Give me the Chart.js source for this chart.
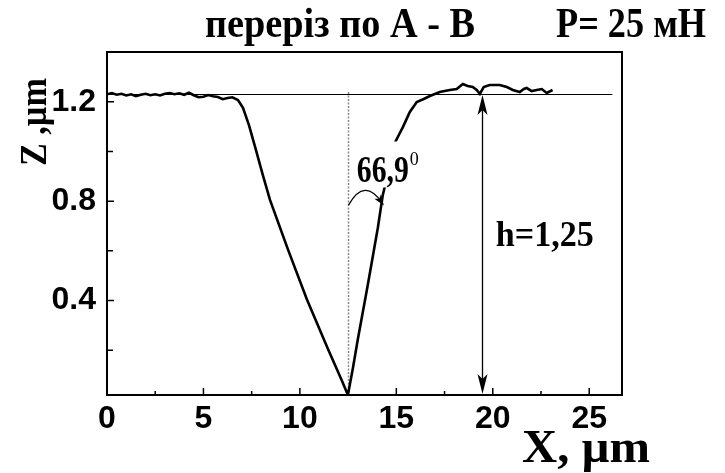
<!DOCTYPE html>
<html>
<head>
<meta charset="utf-8">
<script src="https://cdn.jsdelivr.net/npm/chart.js@4.4.1/dist/chart.umd.min.js"></script>
<style>
  html, body { margin: 0; padding: 0; background: #fff; }
  canvas { display: block; }
</style>
</head>
<body>
<canvas id="chart" width="725" height="473"></canvas>
<script>
/* ── profile A - B ── */
const profileX = [0, 0.25, 0.5, 0.75, 1.0, 1.25, 1.5, 1.75, 2.0, 2.25, 2.5, 2.75, 3.0, 3.25, 3.5, 3.75,
  4.0, 4.25, 4.5, 4.75, 5.0, 5.25, 5.5, 5.75, 6.0, 6.25, 6.5, 6.79, 7.05, 7.36, 7.72, 8.08, 8.45, 9.38,
  10.36, 11.45, 12.18, 12.49, 12.75, 13.0, 13.52, 14.04, 14.3, 14.61, 14.92, 15.13, 15.34, 15.7, 16.06,
  16.42, 16.74, 17.25, 17.77, 18.13, 18.45, 18.7, 18.96, 19.17, 19.33, 19.53, 19.84, 20.36, 20.73, 21.04,
  21.4, 21.61, 21.76, 22.02, 22.28, 22.54, 22.8, 23.1];
const profileZ = [1.230, 1.235, 1.228, 1.232, 1.225, 1.230, 1.222, 1.228, 1.232, 1.226, 1.230, 1.225, 1.232,
  1.235, 1.230, 1.234, 1.228, 1.236, 1.226, 1.218, 1.220, 1.227, 1.222, 1.219, 1.210, 1.215, 1.218, 1.207,
  1.175, 1.106, 1.006, 0.905, 0.805, 0.606, 0.405, 0.206, 0.077, 0.02, 0.129, 0.242, 0.463, 0.692, 0.825,
  0.926, 1.034, 1.066, 1.098, 1.159, 1.199, 1.211, 1.223, 1.239, 1.247, 1.251, 1.271, 1.263, 1.259, 1.247,
  1.231, 1.259, 1.267, 1.267, 1.259, 1.247, 1.239, 1.251, 1.255, 1.243, 1.247, 1.251, 1.235, 1.247];

const xMajor = [0, 5, 10, 15, 20, 25];
const xMinor = [2.5, 7.5, 12.5, 17.5, 22.5];
const yMajor = [0.4, 0.8, 1.2];
const yMinor = [0.2, 0.6, 1.0];

const surfaceZ = 1.231;   // reference level
const tipX = 12.52;       // indent bottom (dotted axis)
const hMarkX = 19.43;     // depth arrow

/* ── helpers ── */
function fitText(ctx, str, x, y, font, w) {
  ctx.save();
  ctx.font = font;
  const k = w ? w / ctx.measureText(str).width : 1;
  ctx.translate(x, y);
  ctx.scale(k, 1);
  ctx.textAlign = 'left';
  ctx.textBaseline = 'alphabetic';
  ctx.fillText(str, 0, 0);
  ctx.restore();
}

function arrowHead(ctx, tx, ty, ang, len, half) {
  ctx.save();
  ctx.translate(tx, ty);
  ctx.rotate(ang);
  ctx.beginPath();
  ctx.moveTo(0, 0);
  ctx.lineTo(-len, -half);
  ctx.lineTo(-len * 0.75, 0);
  ctx.lineTo(-len, half);
  ctx.closePath();
  ctx.fill();
  ctx.restore();
}

const serif = '"Liberation Serif", "Times New Roman", serif';

/* ── decorations ── */
const decor = {
  id: 'decor',
  beforeDatasetsDraw(chart) {
    const { ctx, chartArea: a, scales: { x, y } } = chart;
    ctx.save();
    // surface level
    const sy = Math.round(y.getPixelForValue(surfaceZ)) + 0.5;
    ctx.strokeStyle = '#000';
    ctx.lineWidth = 1;
    ctx.beginPath();
    ctx.moveTo(a.left, sy);
    ctx.lineTo(x.getPixelForValue(26.2), sy);
    ctx.stroke();
    // dotted axis of the indent
    const tx = Math.round(x.getPixelForValue(tipX)) + 0.5;
    ctx.strokeStyle = '#8a8a8a';
    ctx.lineWidth = 1.5;
    ctx.setLineDash([2, 1.5]);
    ctx.beginPath();
    ctx.moveTo(tx, y.getPixelForValue(1.239));
    ctx.lineTo(tx, a.bottom);
    ctx.stroke();
    ctx.restore();
  },
  afterDraw(chart) {
    const { ctx, chartArea: a, scales: { x, y } } = chart;
    ctx.save();
    ctx.fillStyle = '#000';
    ctx.strokeStyle = '#000';

    // frame
    ctx.lineWidth = 2;
    ctx.strokeRect(a.left, a.top, a.right - a.left, a.bottom - a.top);

    // inward ticks
    ctx.lineWidth = 1.5;
    ctx.beginPath();
    xMajor.forEach(v => { const p = x.getPixelForValue(v); ctx.moveTo(p, a.bottom); ctx.lineTo(p, a.bottom - 7); });
    xMinor.forEach(v => { const p = x.getPixelForValue(v); ctx.moveTo(p, a.bottom); ctx.lineTo(p, a.bottom - 4); });
    yMajor.forEach(v => { const p = y.getPixelForValue(v); ctx.moveTo(a.left, p); ctx.lineTo(a.left + 7, p); });
    yMinor.forEach(v => { const p = y.getPixelForValue(v); ctx.moveTo(a.left, p); ctx.lineTo(a.left + 6, p); });
    ctx.stroke();

    // depth arrow h
    const hx = Math.round(x.getPixelForValue(hMarkX)) + 0.5;
    const hTop = y.getPixelForValue(surfaceZ);
    ctx.lineWidth = 1.3;
    ctx.beginPath();
    ctx.moveTo(hx, hTop + 10);
    ctx.lineTo(hx, a.bottom - 10);
    ctx.stroke();
    arrowHead(ctx, hx, hTop + 1, -Math.PI / 2, 20, 5);
    arrowHead(ctx, hx, a.bottom - 1, Math.PI / 2, 20, 5);

    // angle label sits on a white patch that hides the trace behind it
    const lx = x.getPixelForValue(12.95), ly = y.getPixelForValue(0.877);
    ctx.fillStyle = '#fff';
    ctx.fillRect(lx - 3, y.getPixelForValue(1.04), 70, y.getPixelForValue(0.855) - y.getPixelForValue(1.04));
    ctx.fillStyle = '#000';
    fitText(ctx, '66,9', lx, ly, 'bold 38px ' + serif, 52);
    fitText(ctx, '0', lx + 53, y.getPixelForValue(0.945), '18px ' + serif);

    // angle arc
    const ax0 = x.getPixelForValue(tipX), ay0 = y.getPixelForValue(0.784);
    const ax1 = x.getPixelForValue(14.3), ay1 = y.getPixelForValue(0.79);
    const cx = x.getPixelForValue(13.35), cy = y.getPixelForValue(0.9);
    ctx.lineWidth = 1.2;
    ctx.beginPath();
    ctx.moveTo(ax0, ay0);
    ctx.quadraticCurveTo(cx, cy, ax1, ay1);
    ctx.stroke();
    arrowHead(ctx, ax1 + 1, ay1 + 2, Math.atan2(ay1 - cy, ax1 - cx), 11, 4);

    fitText(ctx, 'h=1,25', x.getPixelForValue(20.16), y.getPixelForValue(0.62), 'bold 35px ' + serif, 98);

    // title
    fitText(ctx, 'переріз по A - B', 205, 37, 'bold 42px ' + serif, 270);
    fitText(ctx, 'P= 25 мН', 556, 37, 'bold 42px ' + serif, 150);

    // axis titles
    fitText(ctx, 'X, µm', 522, 462, 'bold 46px ' + serif, 128);
    ctx.save();
    ctx.translate(46, 166);
    ctx.rotate(-Math.PI / 2);
    fitText(ctx, 'Z ,µm', 0, 0, 'bold 38px ' + serif, 88);
    ctx.restore();

    ctx.restore();
  }
};

/* ── Chart.js ── */
const ctx = document.getElementById('chart');
new Chart(ctx, {
  type: 'line',
  data: {
    datasets: [{
      data: profileX.map((v, i) => ({ x: v, y: profileZ[i] })),
      borderColor: '#000',
      borderWidth: 2.6,
      pointRadius: 0,
      tension: 0,
      fill: false
    }]
  },
  options: {
    responsive: false,
    devicePixelRatio: 1,
    animation: false,
    layout: { padding: { left: 0, top: 52, right: 103, bottom: 0 } },
    plugins: { legend: { display: false }, tooltip: { enabled: false } },
    scales: {
      x: {
        type: 'linear', min: 0, max: 26.7,
        afterBuildTicks: s => { s.ticks = xMajor.map(v => ({ value: v })); },
        afterFit: s => { s.height = 78; },
        grid: { display: false, drawTicks: false },
        border: { display: false },
        ticks: {
          color: '#000', padding: 5, maxRotation: 0, autoSkip: false,
          font: { family: '"Liberation Sans", Arial, sans-serif', size: 32, weight: 'bold' },
          callback: v => String(v)
        }
      },
      y: {
        type: 'linear', min: 0.02, max: 1.4,
        afterBuildTicks: s => { s.ticks = yMajor.map(v => ({ value: v })); },
        afterFit: s => { s.width = 107; },
        grid: { display: false, drawTicks: false },
        border: { display: false },
        ticks: {
          color: '#000', padding: 11, autoSkip: false,
          font: { family: '"Liberation Sans", Arial, sans-serif', size: 32, weight: 'bold' },
          callback: v => v.toFixed(1)
        }
      }
    }
  },
  plugins: [decor]
});
</script>
</body>
</html>
